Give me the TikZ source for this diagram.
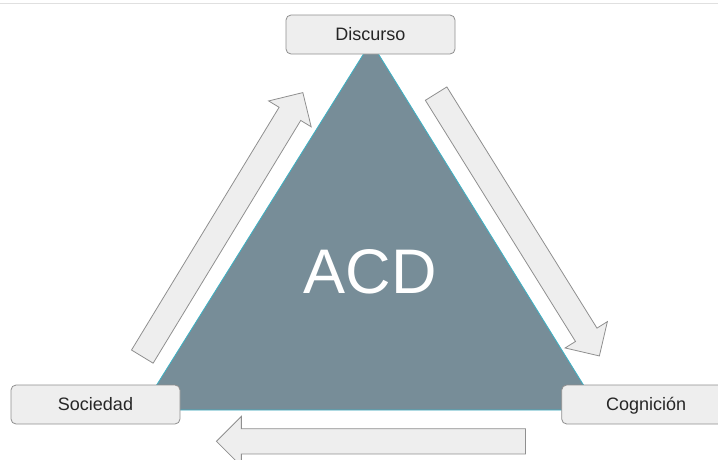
\documentclass[tikz,border=0pt]{standalone}
\usepackage{fontspec}
\setmainfont{Liberation Sans}
\usetikzlibrary{shapes.arrows}
\definecolor{boxfill}{HTML}{EEEEEE}
\definecolor{boxline}{HTML}{8F8F8F}
\definecolor{acdfill}{HTML}{778D98}
\definecolor{acdline}{HTML}{3DB3C6}
\begin{document}
\begin{tikzpicture}[x=1pt,y=-1pt,
                    box/.style={rectangle,rounded corners=5pt,draw=boxline,fill=boxfill,line width=0.8pt,
                                minimum width=169pt,minimum height=39pt,inner sep=0pt,
                                text height=12.9pt,text depth=0pt,text=black!85,font=\fontsize{18}{20}\selectfont},
                    bigarrow/.style={single arrow,draw=boxline,fill=boxfill,line width=0.8pt,
                                     inner xsep=0pt,inner ysep=12.25pt,
                                     minimum width=49pt,minimum height=309pt,single arrow head extend=12.25pt}]
  \useasboundingbox (0,0) rectangle (718,459);
  \draw[black!12,line width=0.8pt] (0,3) -- (718,3);
  \coordinate (top) at (371,42);
  \coordinate (bl)  at (141,410);
  \coordinate (br)  at (599,410);
  \filldraw[fill=acdfill,draw=acdline,line width=0.8pt] (top) -- (bl) -- (br) -- cycle;
  \node[text=white,font=\fontsize{63}{63}\selectfont] (acd) at (370,272) {ACD};
  \node[box] (disc) at (370.5,34.5)  {Discurso};
  \node[box] (soc)  at (95.5,404.5)  {Sociedad};
  \node[box] (cog)  at (646.2,404.5) {Cognición};
  \node[bigarrow,rotate=58.7]  (up)   at (219.3,230.0) {};
  \node[bigarrow,rotate=-58.1] (down) at (514.4,219.4) {};
  \node[bigarrow,rotate=180]   (back) at (377.3,441.3) {};
\end{tikzpicture}
\end{document}
